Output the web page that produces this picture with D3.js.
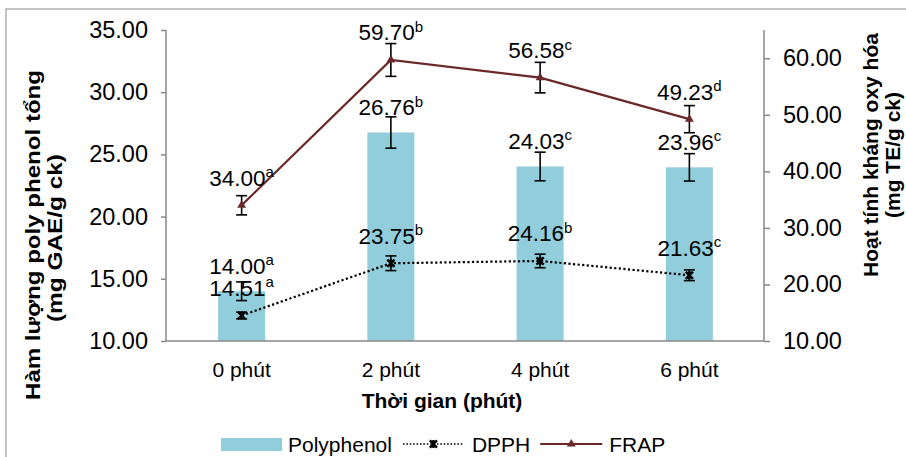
<!DOCTYPE html>
<html>
<head>
<meta charset="utf-8">
<script src="https://cdn.jsdelivr.net/npm/d3@7"></script>
<style>
  html, body { margin: 0; padding: 0; background: #fff; }
  svg { display: block; font-family: "Liberation Sans", Arial, sans-serif; }
</style>
</head>
<body>
<svg id="chart" width="906" height="457"></svg>
<script>
// Time points
const categories = ["0 phút", "2 phút", "4 phút", "6 phút"];

// Total polyphenol (left axis, mg GAE/g ck)
const polyphenol = [14.00, 26.76, 24.03, 23.96];
const polyphenolErr = [0.75, 1.26, 1.15, 1.10];
const polyphenolSig = ["a", "b", "c", "c"];

// DPPH antioxidant activity (right axis, mg TE/g ck)
const dpph = [14.51, 23.75, 24.16, 21.63];
const dpphErr = [0.6, 1.3, 1.2, 0.95];
const dpphSig = ["a", "b", "b", "c"];

// FRAP antioxidant activity (right axis, mg TE/g ck)
const frap = [34.00, 59.70, 56.58, 49.23];
const frapErr = [1.7, 2.9, 2.7, 2.4];
const frapSig = ["a", "b", "c", "d"];

// Axis ticks
const leftTicks = [10, 15, 20, 25, 30, 35];
const rightTicks = [10, 20, 30, 40, 50, 60];

const svg = d3.select("#chart");
const FONT = 21;          // category, legend, titles
const TICK_FONT = 23.5;   // numeric axis labels
const LABEL_FONT = 22.5;  // value labels
const AXIS_GRAY = "#888888";
const BAR_COLOR = "#92cddc";
const FRAP_COLOR = "#6b2828";

// outer frame
svg.append("rect")
  .attr("x", 6).attr("y", 9).attr("width", 1000).attr("height", 1000)
  .attr("fill", "none").attr("stroke", "#a6a6a6").attr("stroke-width", 1.3);

const plot = { left: 166, right: 764, top: 30, bottom: 341 };

const x = d3.scaleBand().domain(categories).range([plot.left + 1, plot.right]).padding(0);
const yL = d3.scaleLinear().domain([10, 35]).range([plot.bottom, plot.top]);
const yR = d3.scaleLinear().domain([10, 65]).range([plot.bottom, plot.top]);
const cx = c => x(c) + x.bandwidth() / 2;
const barW = x.bandwidth() * 0.315;
const fmt = d3.format(".2f");

// left axis
const gL = svg.append("g").attr("transform", `translate(${plot.left},0)`)
  .call(d3.axisLeft(yL).tickValues(leftTicks).tickFormat(fmt).tickSize(5).tickPadding(13));
// right axis
const gR = svg.append("g").attr("transform", `translate(${plot.right},0)`)
  .call(d3.axisRight(yR).tickValues(rightTicks).tickFormat(fmt).tickSize(6).tickPadding(13));
[gL, gR].forEach(g => {
  g.select(".domain").attr("stroke", AXIS_GRAY).attr("stroke-width", 1.5)
    .attr("d", `M0,${plot.top}V${plot.bottom}`);
  g.selectAll(".tick line").attr("stroke", AXIS_GRAY).attr("stroke-width", 1.5);
  g.selectAll(".tick text").attr("fill", "#000").attr("font-size", TICK_FONT)
    .attr("font-family", "'Liberation Sans', Arial, sans-serif");
});

// category labels
svg.append("g").selectAll("text").data(categories).join("text")
  .attr("x", d => cx(d)).attr("y", 377)
  .attr("text-anchor", "middle").attr("font-size", FONT).text(d => d);

// bars
svg.append("g").selectAll("rect").data(polyphenol).join("rect")
  .attr("x", (d, i) => cx(categories[i]) - barW / 2)
  .attr("y", d => yL(d))
  .attr("width", barW)
  .attr("height", d => yL(10) - yL(d))
  .attr("fill", BAR_COLOR);

// bottom axis line
svg.append("line")
  .attr("x1", plot.left - 1).attr("x2", plot.right)
  .attr("y1", plot.bottom).attr("y2", plot.bottom)
  .attr("stroke", AXIS_GRAY).attr("stroke-width", 1.6);

function errorBars(values, errs, scale) {
  const g = svg.append("g").attr("stroke", "#000").attr("stroke-width", 1.6).attr("fill", "none");
  values.forEach((v, i) => {
    const xc = cx(categories[i]);
    const y1 = scale(v + errs[i]), y2 = scale(v - errs[i]);
    g.append("line").attr("x1", xc).attr("x2", xc).attr("y1", y1).attr("y2", y2);
    g.append("line").attr("x1", xc - 5.5).attr("x2", xc + 5.5).attr("y1", y1).attr("y2", y1);
    g.append("line").attr("x1", xc - 5.5).attr("x2", xc + 5.5).attr("y1", y2).attr("y2", y2);
  });
}

errorBars(polyphenol, polyphenolErr, yL);

const line = d3.line().x((d, i) => cx(categories[i])).y(d => yR(d));

// DPPH dotted line
svg.append("path").datum(dpph).attr("d", line)
  .attr("fill", "none").attr("stroke", "#000").attr("stroke-width", 2.2)
  .attr("stroke-dasharray", "2.2,2.4");

// FRAP line
svg.append("path").datum(frap).attr("d", line)
  .attr("fill", "none").attr("stroke", FRAP_COLOR).attr("stroke-width", 2.2);

errorBars(dpph, dpphErr, yR);
errorBars(frap, frapErr, yR);

// markers
function starMarker(g, px, py) {
  const s = 3.6;
  g.append("path")
    .attr("d", `M${px - s},${py - s}L${px + s},${py + s}M${px - s},${py + s}L${px + s},${py - s}M${px},${py - s - 0.5}L${px},${py + s + 0.5}`)
    .attr("stroke", "#000").attr("stroke-width", 2.4).attr("fill", "none");
}
const triangle = d3.symbol().type(d3.symbolTriangle).size(34);
function triMarker(g, px, py) {
  g.append("path").attr("d", triangle()).attr("transform", `translate(${px},${py})`)
    .attr("fill", FRAP_COLOR);
}
const mk = svg.append("g");
dpph.forEach((v, i) => starMarker(mk, cx(categories[i]), yR(v)));
frap.forEach((v, i) => triMarker(mk, cx(categories[i]), yR(v)));

// value labels with significance letters
function valueLabels(values, letters, scale, offset) {
  const g = svg.append("g");
  values.forEach((v, i) => {
    const t = g.append("text")
      .attr("x", cx(categories[i]))
      .attr("y", scale(v) - offset)
      .attr("text-anchor", "middle")
      .attr("font-size", LABEL_FONT)
      .attr("fill", "#000");
    t.append("tspan").text(fmt(v));
    t.append("tspan").attr("font-size", 15).attr("dy", -8.5).text(letters[i]);
  });
}
valueLabels(polyphenol, polyphenolSig, yL, 17.5);
valueLabels(dpph, dpphSig, yR, 19.5);
valueLabels(frap, frapSig, yR, 19.5);

// axis titles
svg.append("text")
  .attr("x", 442).attr("y", 408)
  .attr("text-anchor", "middle").attr("font-size", FONT).attr("font-weight", "bold")
  .text("Thời gian (phút)");

const leftTitle = svg.append("g").attr("transform", "translate(0,235) rotate(-90)");
leftTitle.append("text").attr("x", 0).attr("y", 40)
  .attr("text-anchor", "middle").attr("font-size", FONT).attr("font-weight", "bold")
  .attr("textLength", 330).attr("lengthAdjust", "spacingAndGlyphs")
  .text("Hàm lượng poly phenol tổng");
leftTitle.append("text").attr("x", -3).attr("y", 62)
  .attr("text-anchor", "middle").attr("font-size", FONT).attr("font-weight", "bold")
  .attr("textLength", 168).attr("lengthAdjust", "spacingAndGlyphs")
  .text("(mg GAE/g ck)");

const rightTitle = svg.append("g").attr("transform", "translate(0,155) rotate(-90)");
rightTitle.append("text").attr("x", 0).attr("y", 878)
  .attr("text-anchor", "middle").attr("font-size", FONT).attr("font-weight", "bold")
  .text("Hoạt tính kháng oxy hóa");
rightTitle.append("text").attr("x", 0).attr("y", 900)
  .attr("text-anchor", "middle").attr("font-size", FONT).attr("font-weight", "bold")
  .text("(mg TE/g ck)");

// legend
const lg = svg.append("g");
const ly = 444;
let lx = 221;
lg.append("rect").attr("x", lx).attr("y", ly - 6).attr("width", 61).attr("height", 13).attr("fill", BAR_COLOR);
lx += 61 + 6;
let t = lg.append("text").attr("x", lx).attr("y", ly + 8).attr("font-size", FONT).text("Polyphenol");
lx += t.node().getComputedTextLength() + 11;
lg.append("line").attr("x1", lx).attr("x2", lx + 61).attr("y1", ly).attr("y2", ly)
  .attr("stroke", "#000").attr("stroke-width", 1.6).attr("stroke-dasharray", "1.6,1.8");
starMarker(lg, lx + 30.5, ly);
lx += 61 + 8;
t = lg.append("text").attr("x", lx).attr("y", ly + 8).attr("font-size", FONT).text("DPPH");
lx += t.node().getComputedTextLength() + 10;
lg.append("line").attr("x1", lx).attr("x2", lx + 62).attr("y1", ly).attr("y2", ly)
  .attr("stroke", FRAP_COLOR).attr("stroke-width", 2.2);
triMarker(lg, lx + 31, ly);
lx += 62 + 7;
lg.append("text").attr("x", lx).attr("y", ly + 8).attr("font-size", FONT).text("FRAP");
</script>
</body>
</html>
